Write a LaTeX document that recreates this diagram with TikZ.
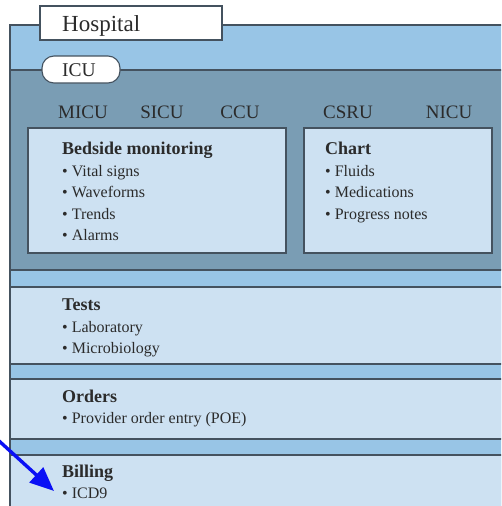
\documentclass[tikz,border=0pt]{standalone}
\usepackage{fontspec}
\setmainfont{Liberation Serif}
\usetikzlibrary{arrows.meta}
\definecolor{hosp}{HTML}{98C5E6}
\definecolor{icu}{HTML}{7A9DB4}
\definecolor{pale}{HTML}{CDE1F2}
\definecolor{edge}{HTML}{44525F}
\definecolor{txt}{HTML}{2B2B2B}
\definecolor{arrowblue}{HTML}{0A10F5}
\begin{document}
\begin{tikzpicture}[x=1pt,y=-1pt,
  region/.style={draw=edge,line width=1.3pt},
  unitlbl/.style={anchor=base,font=\fontsize{19}{19}\selectfont,text=txt,inner sep=0pt},
  head/.style={anchor=base west,font=\fontsize{18}{18}\selectfont\bfseries,text=txt,inner sep=0pt},
  item/.style={anchor=base west,font=\fontsize{16}{16}\selectfont,text=txt,inner sep=0pt},
  pointer/.style={-{Triangle[length=24pt,width=20pt]},arrowblue,line width=3.4pt}]
\useasboundingbox (0,0) rectangle (501,506);
\begin{scope}
\clip (0,0) rectangle (501,506);
% hospital area
\fill[hosp] (10,25) rectangle (520,520);
\draw[region] (520,25) -- (10,25) -- (10,520);
% ICU area
\fill[icu] (10,70) rectangle (520,270);
\draw[region] (520,70) -- (10,70) -- (10,270) -- (520,270);
% boxes in ICU
\draw[region,fill=pale,line width=1.1pt] (28,128) rectangle (286,253);
\draw[region,fill=pale,line width=1.1pt] (304,128) rectangle (492,253);
% lower sections
\fill[pale] (10,287) rectangle (520,364);
\draw[region] (520,287) -- (10,287) -- (10,364) -- (520,364);
\fill[pale] (10,379) rectangle (520,439);
\draw[region] (520,379) -- (10,379) -- (10,439) -- (520,439);
\fill[pale] (10,455) rectangle (520,520);
\draw[region] (520,455) -- (10,455) -- (10,520);
\end{scope}
% labels
\draw[region,fill=white,line width=1.1pt] (40,6) rectangle (222,40);
\node[anchor=base west,font=\fontsize{23}{23}\selectfont,text=txt,inner sep=0pt] (hospital) at (62,31) {Hospital};
\draw[region,fill=white,line width=1.1pt,rounded corners=12pt] (42,56) rectangle (120,83);
\node[anchor=base,font=\fontsize{19.5}{19.5}\selectfont,text=txt,inner sep=0pt] (icu) at (79,76) {ICU};
% units
\node[unitlbl] (micu) at (83,118) {MICU};
\node[unitlbl] (sicu) at (162,118) {SICU};
\node[unitlbl] (ccu) at (240,118) {CCU};
\node[unitlbl] (csru) at (348,118) {CSRU};
\node[unitlbl] (nicu) at (449,118) {NICU};
% bedside
\node[head] (bed) at (62,154) {Bedside monitoring};
\node[item] (vital) at (62,176) {• Vital signs};
\node[item] (wave) at (62,197.5) {• Waveforms};
\node[item] (trend) at (62,219) {• Trends};
\node[item] (alarm) at (62,240.5) {• Alarms};
% chart
\node[head] (chart) at (325,154) {Chart};
\node[item] (fluid) at (325,176) {• Fluids};
\node[item] (meds) at (325,197.5) {• Medications};
\node[item] (prog) at (325,219) {• Progress notes};
% tests
\node[head] (tests) at (62,310) {Tests};
\node[item] (lab) at (62,332) {• Laboratory};
\node[item] (micro) at (62,353.5) {• Microbiology};
% orders
\node[head] (orders) at (62,402) {Orders};
\node[item] (poe) at (62,423) {• Provider order entry (POE)};
% billing
\node[head] (billing) at (62,477) {Billing};
\node[item] (icd) at (62,498) {• ICD9};
% arrow
\coordinate (from) at (-2,440);
\coordinate (to) at ([xshift=-8pt,yshift=7pt]icd.base west);
\draw[pointer] (from) -- (to);
\end{tikzpicture}
\end{document}
